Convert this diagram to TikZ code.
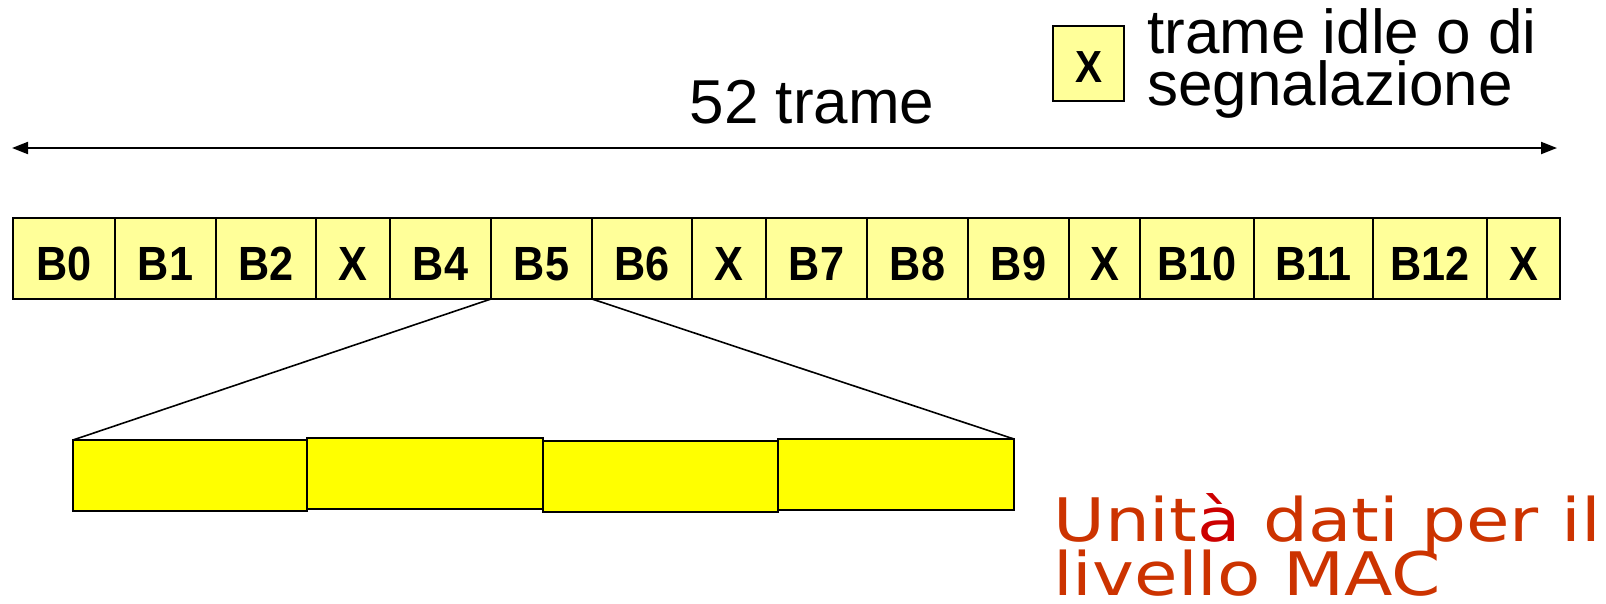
\documentclass[tikz,border=0pt]{standalone}
\usepackage{fontspec}
\setmainfont{Liberation Sans}
\newfontfamily\cellfont{Liberation Sans}[FakeStretch=0.9]
\newfontfamily\notefont{DejaVu Sans}[FakeStretch=1.18]
\usetikzlibrary{arrows.meta}

\definecolor{cellyellow}{HTML}{FFFF99}
\definecolor{unityellow}{HTML}{FFFF00}
\definecolor{macorange}{HTML}{CC3300}
\definecolor{accentred}{HTML}{CC0000}

\tikzset{
  cell/.style={draw=black, line width=2pt, fill=cellyellow, inner sep=0pt,
    outer sep=0pt, minimum height=81pt, text height=44pt, text depth=0pt,
    font=\cellfont\bfseries\fontsize{48}{48}\selectfont},
  unit/.style={draw=black, line width=2.2pt, fill=unityellow, inner sep=0pt,
    outer sep=0pt, anchor=north west},
  zoomline/.style={line width=1.6pt},
  span/.style={line width=2pt,
    {Triangle[length=16pt,width=12pt]}-{Triangle[length=16pt,width=12pt]}},
  bigtext/.style={font=\fontsize{62}{62}\selectfont, inner sep=0pt},
  macnote/.style={anchor=base west, inner sep=0pt, text=macorange,
    font=\notefont\fontsize{60}{60}\selectfont},
}

\begin{document}
\begin{tikzpicture}[x=1pt,y=-1pt]
  \useasboundingbox (0,0) rectangle (1606,603);

  % legend
  \node[cell, minimum width=71pt, minimum height=75pt, text height=38pt,
        font=\cellfont\bfseries\fontsize{45}{45}\selectfont] (key) at (1088.5,63.5) {X};
  \node[bigtext, anchor=base west] (keyA) at (1147,53) {trame idle o di};
  \node[bigtext, anchor=base west] (keyB) at (1147,105) {segnalazione};

  % multiframe span
  \node[bigtext, anchor=base] (title) at (812,123) {52 trame};
  \coordinate (spanL) at (12,148);
  \coordinate (spanR) at (1557,148);
  \draw[span] (spanL) -- (spanR);

  % the 52-frame multiframe
  \foreach \nm/\xa/\xb/\lb in {
      b0/13/115/B0, b1/115/216/B1, b2/216/316/B2, x3/316/390/X,
      b4/390/491/B4, b5/491/592/B5, b6/592/692/B6, x7/692/766/X,
      b7/766/867/B7, b8/867/968/B8, b9/968/1069/B9, x11/1069/1140/X,
      b10/1140/1254/B10, b11/1254/1373/B11, b12/1373/1487/B12, x15/1487/1560/X}
    \node[cell, minimum width=\xb pt-\xa pt] (\nm) at ({(\xa+\xb)/2},258.5) {\lb};

  % the four bursts of one block
  \node[unit, minimum width=234pt, minimum height=71pt] (q1) at (73,440) {};
  \node[unit, minimum width=236pt, minimum height=71pt] (q2) at (307,438) {};
  \node[unit, minimum width=235pt, minimum height=71pt] (q3) at (543,441) {};
  \node[unit, minimum width=236pt, minimum height=71pt] (q4) at (778,439) {};

  \draw[zoomline] (b5.south west) -- (q1.north west);
  \draw[zoomline] (b5.south east) -- (q4.north east);

  \node[macnote] (macA) at (1053,541) {Unit\textcolor{accentred}{à} dati per il};
  \node[macnote] (macB) at (1053,595) {livello MAC};
\end{tikzpicture}
\end{document}
